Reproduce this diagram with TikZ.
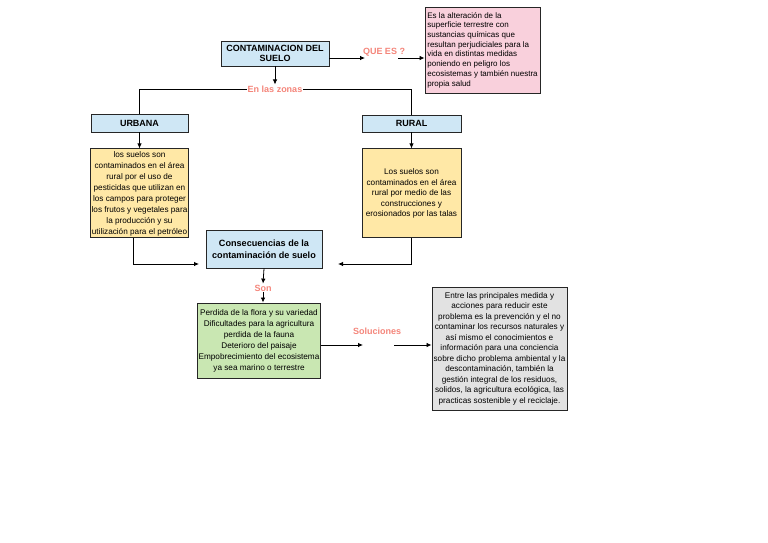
\documentclass[tikz,border=0pt]{standalone}
\usepackage{fontspec}
\setmainfont{Liberation Sans}
\usepackage{xcolor}
\usetikzlibrary{arrows.meta,positioning}
\definecolor{celeste}{HTML}{CFE7F5}
\definecolor{rosa}{HTML}{F9D0DC}
\definecolor{crema}{HTML}{FFE8A6}
\definecolor{verdeclaro}{HTML}{C9E7B2}
\definecolor{grisclaro}{HTML}{E2E2E2}
\definecolor{salmon}{HTML}{F4857A}

\begin{document}
\begin{tikzpicture}[
  x=1pt, y=-1pt,
  titulo/.style={draw=black!85, line width=0.9pt, fill=celeste, align=center, inner sep=1pt, font=\fontsize{9}{10.5}\selectfont\bfseries},
  zona/.style={draw=black!85, line width=0.9pt, fill=celeste, align=center, inner sep=1pt, font=\fontsize{9}{10}\selectfont\bfseries},
  texto/.style={draw=black!85, line width=0.9pt, align=center, inner sep=1pt, font=\fontsize{8.2}{10.5}\selectfont},
  etiqueta/.style={text=salmon, inner sep=1pt, font=\fontsize{9}{10}\selectfont\bfseries},
  arr/.style={-{Latex[length=5pt,width=4.5pt]}, line width=0.8pt},
  lin/.style={line width=0.8pt}
]
\useasboundingbox (0,0) rectangle (768,543);

\node[titulo, minimum width=108pt, minimum height=25pt] (suelo) at (275,53.5) {CONTAMINACION DEL\\SUELO};
\node[etiqueta] (quees) at (384,52) {QUE ES ?};
\node[texto, fill=rosa, align=left, minimum width=115pt, minimum height=86pt, font=\fontsize{8}{9.7}\selectfont] (defin) at (482.5,50)
  {Es la alteración de la\\superficie terrestre con\\sustancias químicas que\\resultan perjudiciales para la\\vida en distintas medidas\\poniendo en  peligro los\\ecosistemas y también nuestra\\propia salud};
\node[etiqueta] (zonas) at (275,89) {En las zonas};

\node[zona, minimum width=97pt, minimum height=18pt] (urbana) at (139.5,123) {URBANA};
\node[zona, minimum width=99pt, minimum height=17pt] (rural) at (411.5,123.5) {RURAL};
\node[texto, fill=crema, below=16pt of urbana, minimum width=98pt, minimum height=89pt, font=\fontsize{8.2}{11}\selectfont] (urbtexto)
  {los suelos son\\contaminados en el área\\rural por el uso de\\pesticidas  que utilizan en\\los campos para proteger\\los frutos y vegetales para\\la  producción y su\\utilización para el petróleo};
\node[texto, fill=crema, below=16pt of rural, minimum width=99pt, minimum height=89pt] (rurtexto)
  {Los suelos son\\contaminados en el área\\rural por medio de las\\construcciones y\\erosionados por las talas};

\node[titulo, minimum width=116pt, minimum height=38pt, font=\fontsize{9.1}{12.5}\selectfont\bfseries] (conse) at (264,249) {Consecuencias de la\\contaminación de suelo};
\node[etiqueta] (son) at (263,288) {Son};
\node[texto, fill=verdeclaro, minimum width=122pt, minimum height=75pt, font=\fontsize{8.2}{11}\selectfont] (efectos) at (259,340.5)
  {Perdida de la flora y su variedad\\Dificultades para la agricultura\\perdida de la fauna\\Deterioro del paisaje\\Empobrecimiento del ecosistema\\ya sea marino o terrestre};
\node[etiqueta] (soluc) at (377,331) {Soluciones};
\node[texto, fill=grisclaro, minimum width=135pt, minimum height=123pt] (medidas) at (499.5,348.5)
  {Entre las principales medida y\\acciones para reducir este\\problema es la prevención y el no\\contaminar los recursos naturales y\\así mismo el conocimientos e\\información para una conciencia\\sobre dicho problema ambiental y la\\descontaminación, también la\\gestión integral de los residuos,\\solidos, la agricultura ecológica, las\\practicas sostenible y el reciclaje.};

\coordinate (q1) at (365,58);
\coordinate (q2) at (398,58);
\coordinate (cl) at (199,264);
\coordinate (cr) at (338,264);
\coordinate (s1) at (363,345);
\coordinate (s2) at (394,345);

\draw[arr] (suelo.east |- q1) -- (q1);
\draw[arr] (q2) -- (q2 -| defin.west);
\draw[arr] (suelo.south) -- (zonas.north);
\draw[lin] (zonas.west) -| (urbana.north);
\draw[lin] (zonas.east) -| (rural.north);
\draw[arr] (urbana) -- (urbtexto);
\draw[arr] (rural) -- (rurtexto);
\draw[arr] ([xshift=-6pt]urbtexto.south) |- (cl);
\draw[arr] (rurtexto.south) |- (cr);
\draw[arr] (conse.south) -- (son.north);
\draw[arr] (son.south) -- (son.south |- efectos.north);
\draw[arr] (efectos.east |- s1) -- (s1);
\draw[arr] (s2) -- (s2 -| medidas.west);
\end{tikzpicture}
\end{document}
